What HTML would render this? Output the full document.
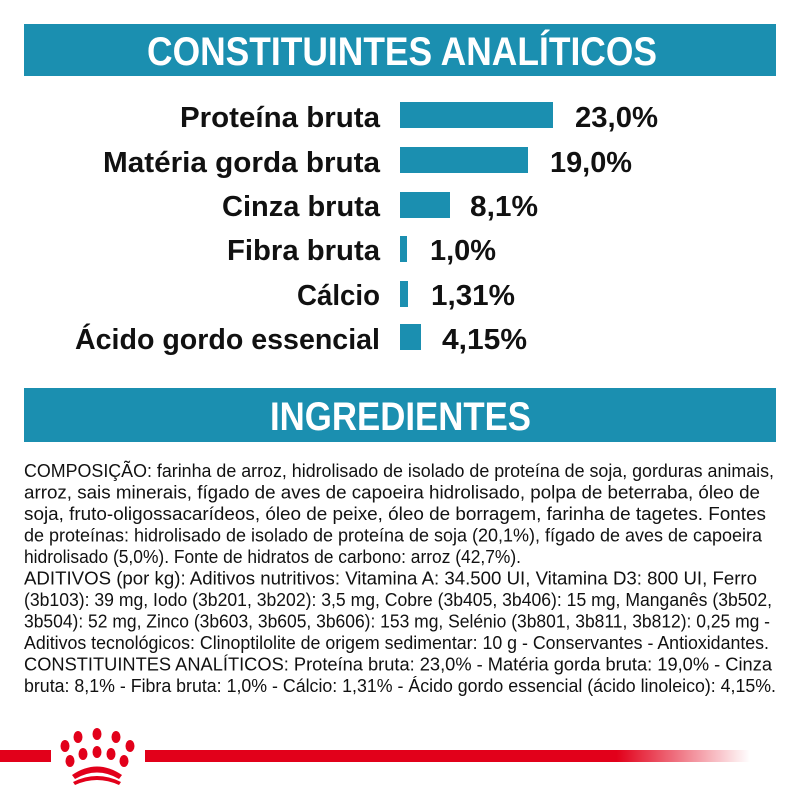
<!DOCTYPE html>
<html><head><meta charset="utf-8"><style>
html,body{margin:0;padding:0;background:#fff;}
svg{display:block;}
.l{font-family:"Liberation Sans",sans-serif;font-weight:bold;font-size:29px;fill:#111;}
.b{font-family:"Liberation Sans",sans-serif;font-size:18.5px;fill:#111;}
.h{font-family:"Liberation Sans",sans-serif;font-weight:bold;fill:#fff;}
</style></head><body>
<svg width="800" height="800" viewBox="0 0 800 800" xmlns="http://www.w3.org/2000/svg">
<defs><linearGradient id="fade" x1="0" x2="1"><stop offset="0.78" stop-color="#e2001a"/><stop offset="1" stop-color="#e2001a" stop-opacity="0"/></linearGradient></defs>
<rect x="24" y="24" width="752" height="52" fill="#1b8fb0"/>
<text class="h" x="147" y="65" font-size="40" textLength="510" lengthAdjust="spacingAndGlyphs">CONSTITUINTES ANALÍTICOS</text>
<g fill="#1b8fb0">
<rect x="400" y="102" width="153" height="26"/>
<rect x="400" y="147" width="128" height="26"/>
<rect x="400" y="192" width="50" height="26"/>
<rect x="400" y="236" width="7" height="26"/>
<rect x="400" y="281" width="8" height="26"/>
<rect x="400" y="324" width="21" height="26"/>
</g>
<g class="l">
<text x="180" y="127" textLength="200" lengthAdjust="spacingAndGlyphs">Proteína bruta</text>
<text x="103" y="172" textLength="277" lengthAdjust="spacingAndGlyphs">Matéria gorda bruta</text>
<text x="222" y="216" textLength="158" lengthAdjust="spacingAndGlyphs">Cinza bruta</text>
<text x="227" y="260" textLength="153" lengthAdjust="spacingAndGlyphs">Fibra bruta</text>
<text x="297" y="305" textLength="83" lengthAdjust="spacingAndGlyphs">Cálcio</text>
<text x="75" y="349" textLength="305" lengthAdjust="spacingAndGlyphs">Ácido gordo essencial</text>
<text x="575" y="127" textLength="83" lengthAdjust="spacingAndGlyphs">23,0%</text>
<text x="550" y="172" textLength="82" lengthAdjust="spacingAndGlyphs">19,0%</text>
<text x="470" y="216" textLength="68" lengthAdjust="spacingAndGlyphs">8,1%</text>
<text x="430" y="260" textLength="66" lengthAdjust="spacingAndGlyphs">1,0%</text>
<text x="431" y="305" textLength="84" lengthAdjust="spacingAndGlyphs">1,31%</text>
<text x="442" y="349" textLength="85" lengthAdjust="spacingAndGlyphs">4,15%</text>
</g>
<rect x="24" y="388" width="752" height="54" fill="#1b8fb0"/>
<text class="h" x="270" y="430" font-size="40" textLength="261" lengthAdjust="spacingAndGlyphs">INGREDIENTES</text>
<g class="b">
<text x="24" y="477" textLength="750" lengthAdjust="spacingAndGlyphs">COMPOSIÇÃO: farinha de arroz, hidrolisado de isolado de proteína de soja, gorduras animais,</text>
<text x="24" y="498.5" textLength="736" lengthAdjust="spacingAndGlyphs">arroz, sais minerais, fígado de aves de capoeira hidrolisado, polpa de beterraba, óleo de</text>
<text x="24" y="520" textLength="742" lengthAdjust="spacingAndGlyphs">soja, fruto-oligossacarídeos, óleo de peixe, óleo de borragem, farinha de tagetes. Fontes</text>
<text x="24" y="541.5" textLength="738" lengthAdjust="spacingAndGlyphs">de proteínas: hidrolisado de isolado de proteína de soja (20,1%), fígado de aves de capoeira</text>
<text x="24" y="563" textLength="497" lengthAdjust="spacingAndGlyphs">hidrolisado (5,0%). Fonte de hidratos de carbono: arroz (42,7%).</text>
<text x="24" y="584.5" textLength="733" lengthAdjust="spacingAndGlyphs">ADITIVOS (por kg): Aditivos nutritivos: Vitamina A: 34.500 UI, Vitamina D3: 800 UI, Ferro</text>
<text x="24" y="606" textLength="748" lengthAdjust="spacingAndGlyphs">(3b103): 39 mg, Iodo (3b201, 3b202): 3,5 mg, Cobre (3b405, 3b406): 15 mg, Manganês (3b502,</text>
<text x="24" y="627.5" textLength="746" lengthAdjust="spacingAndGlyphs">3b504): 52 mg, Zinco (3b603, 3b605, 3b606): 153 mg, Selénio (3b801, 3b811, 3b812): 0,25 mg -</text>
<text x="24" y="649" textLength="745" lengthAdjust="spacingAndGlyphs">Aditivos tecnológicos: Clinoptilolite de origem sedimentar: 10 g - Conservantes - Antioxidantes.</text>
<text x="24" y="670.5" textLength="748" lengthAdjust="spacingAndGlyphs">CONSTITUINTES ANALÍTICOS: Proteína bruta: 23,0% - Matéria gorda bruta: 19,0% - Cinza</text>
<text x="24" y="692" textLength="752" lengthAdjust="spacingAndGlyphs">bruta: 8,1% - Fibra bruta: 1,0% - Cálcio: 1,31% - Ácido gordo essencial (ácido linoleico): 4,15%.</text>
</g>
<rect x="0" y="750" width="51" height="12" fill="#e2001a"/>
<rect x="145" y="750" width="605" height="12" fill="url(#fade)"/>
<g fill="#e2001a">
<ellipse cx="65" cy="746" rx="4.5" ry="6"/>
<ellipse cx="78" cy="737" rx="4.5" ry="6"/>
<ellipse cx="97" cy="734" rx="4.5" ry="6"/>
<ellipse cx="116" cy="737" rx="4.5" ry="6"/>
<ellipse cx="130" cy="746" rx="4.5" ry="6"/>
<ellipse cx="70" cy="761" rx="4.5" ry="6"/>
<ellipse cx="83" cy="754" rx="4.5" ry="6"/>
<ellipse cx="97" cy="752" rx="4.5" ry="6"/>
<ellipse cx="111" cy="754" rx="4.5" ry="6"/>
<ellipse cx="124" cy="761" rx="4.5" ry="6"/>
<path d="M72 775 Q97 758 122 775 L119 779 Q97 766 75 779 Z"/>
<path d="M73 782 Q97 770 121 782 L119 785 Q97 775 75 785 Z"/>
</g>
</svg>
</body></html>
